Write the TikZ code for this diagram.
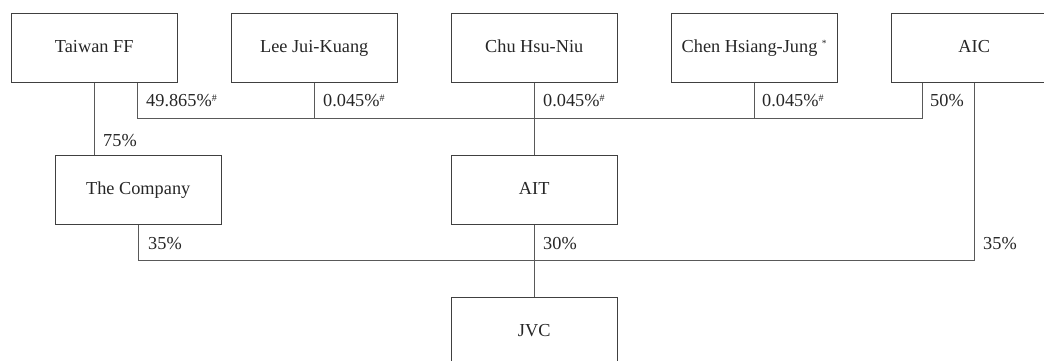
\documentclass[tikz,border=0pt]{standalone}
\usepackage{fontspec}
\setmainfont{Liberation Serif}
\newcommand{\hshmark}{\raisebox{4.5pt}{\fontsize{10}{10}\selectfont\#}}
\newcommand{\astmark}{\raisebox{6pt}{\fontsize{9.5}{9.5}\selectfont*}}
\begin{document}
\begin{tikzpicture}[x=1pt,y=-1pt,
  box/.style={draw=black!75, line width=0.9pt, minimum width=165.5pt, minimum height=69pt, inner sep=0pt, anchor=north west, text=black!85, font=\fontsize{18.3}{20}\selectfont, text height=12.5pt, text depth=4pt},
  pct/.style={anchor=west, inner sep=0pt, text=black!85, font=\fontsize{18.3}{20}\selectfont, text height=12.5pt, text depth=3pt},
  conn/.style={draw=black!65, line width=0.9pt}]
\useasboundingbox (0,0) rectangle (1044,361);
\clip (0,0) rectangle (1044,361);
% top row
\node[box] (tw) at (11,13) {Taiwan FF};
\node[box] (lee) at (231,13) {Lee Jui-Kuang};
\node[box] (chu) at (451,13) {Chu Hsu-Niu};
\node[box] (chen) at (671,13) {Chen Hsiang-Jung \astmark};
\node[box] (aic) at (891,13) {AIC};
% middle row
\node[box] (comp) at (55,155) {The Company};
\node[box] (ait) at (451,155) {AIT};
% bottom
\node[box] (jvc) at (451,297) {JVC};
% bus coordinates
\coordinate (busL) at (137,118);
\coordinate (busR) at (922,118);
\coordinate (lowL) at (138,260.5);
% connectors
\draw[conn] (tw.south) -- (tw.south |- comp.north);
\draw[conn] (tw.south -| busL) -- (busL) -- (busR) -- (aic.south -| busR);
\draw[conn] (lee.south) -- (lee.south |- busL);
\draw[conn] (chu.south) -- (chu.south |- ait.north);
\draw[conn] (chen.south) -- (chen.south |- busL);
\draw[conn] (comp.south -| lowL) -- (lowL) -- (lowL -| aic.south) -- (aic.south);
\draw[conn] (ait.south) -- (jvc.north);
% labels
\node[pct] (l1) at (146,101.5) {49.865\%\hshmark};
\node[pct] (l2) at (323,101.5) {0.045\%\hshmark};
\node[pct] (l3) at (543,101.5) {0.045\%\hshmark};
\node[pct] (l4) at (762,101.5) {0.045\%\hshmark};
\node[pct] (l5) at (930,101.5) {50\%};
\node[pct] (l6) at (103,141.5) {75\%};
\node[pct] (l7) at (148,244.5) {35\%};
\node[pct] (l8) at (543,244.5) {30\%};
\node[pct] (l9) at (983,244.5) {35\%};
\end{tikzpicture}
\end{document}
